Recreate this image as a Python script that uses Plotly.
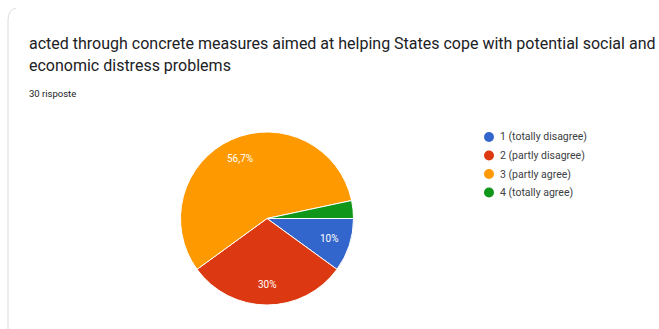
import math
import plotly.graph_objects as go

categories = ["1 (totally disagree)", "2 (partly disagree)", "3 (partly agree)", "4 (totally agree)"]
counts = [3, 9, 17, 1]
slice_labels = ["10%", "30%", "56,7%", ""]
colors = ["#3366CC", "#DC3912", "#FF9900", "#109618"]
title_lines = ["acted through concrete measures aimed at helping States cope with potential social and",
               "economic distress problems"]
subtitle = "30 risposte"

W, H = 659, 329

def px(x):
    return x / W

def py(y):
    return 1 - y / H

# pie placement (pixels)
cx, cy, R = 267, 218.5, 86.5

fig = go.Figure()
fig.add_trace(go.Pie(
    labels=categories,
    values=counts,
    textinfo="none",
    marker=dict(colors=colors, line=dict(color="white", width=1)),
    sort=False,
    direction="clockwise",
    rotation=90,
    showlegend=False,
    hoverinfo="label+percent",
    domain=dict(x=[px(cx - R), px(cx + R)], y=[py(cy + R), py(cy - R)]),
))

annotations = [
    dict(x=px(27), y=py(43), xref="paper", yref="paper", text=title_lines[0],
         showarrow=False, xanchor="left", yanchor="middle",
         font=dict(family="Roboto", size=16, color="#202124")),
    dict(x=px(27), y=py(66), xref="paper", yref="paper", text=title_lines[1],
         showarrow=False, xanchor="left", yanchor="middle",
         font=dict(family="Roboto", size=16, color="#202124")),
    dict(x=px(27), y=py(93), xref="paper", yref="paper", text=subtitle,
         showarrow=False, xanchor="left", yanchor="middle",
         font=dict(family="Roboto", size=9.5, color="#202124")),
]

# slice labels placed at the slice mid-angle (derived from the data)
total = sum(counts)
acc = 0
for v, lab in zip(counts, slice_labels):
    mid = (acc + v / 2) / total * 2 * math.pi  # clockwise from 3 o'clock
    acc += v
    if not lab:
        continue
    r = 0.76 * R
    x = cx + r * math.cos(mid)
    y = cy + r * math.sin(mid)
    annotations.append(dict(x=px(x), y=py(y), xref="paper", yref="paper", text=lab,
                            showarrow=False, xanchor="center", yanchor="middle",
                            font=dict(family="Roboto", size=10, color="white")))

shapes = [
    dict(type="path", xref="paper", yref="paper",
         path=f"M {px(8)} {py(329)} L {px(8)} {py(20)} Q {px(8)} {py(10)} {px(16)} {py(8)}",
         line=dict(color="#dadce0", width=1)),
]
leg_x = 489
leg_y0 = 137
leg_dy = 18.5
for i, (cat, col) in enumerate(zip(categories, colors)):
    yc = leg_y0 + i * leg_dy
    shapes.append(dict(type="circle", xref="paper", yref="paper",
                       x0=px(leg_x - 5), x1=px(leg_x + 5), y0=py(yc + 5), y1=py(yc - 5),
                       fillcolor=col, line=dict(width=0)))
    annotations.append(dict(x=px(leg_x + 9), y=py(yc), xref="paper", yref="paper", text=cat,
                            showarrow=False, xanchor="left", yanchor="middle",
                            font=dict(family="Roboto", size=10.5, color="#3c4043")))

fig.update_layout(
    width=W, height=H,
    margin=dict(l=0, r=0, t=0, b=0),
    paper_bgcolor="white",
    plot_bgcolor="white",
    annotations=annotations,
    shapes=shapes,
)
fig.write_html("out.html")
